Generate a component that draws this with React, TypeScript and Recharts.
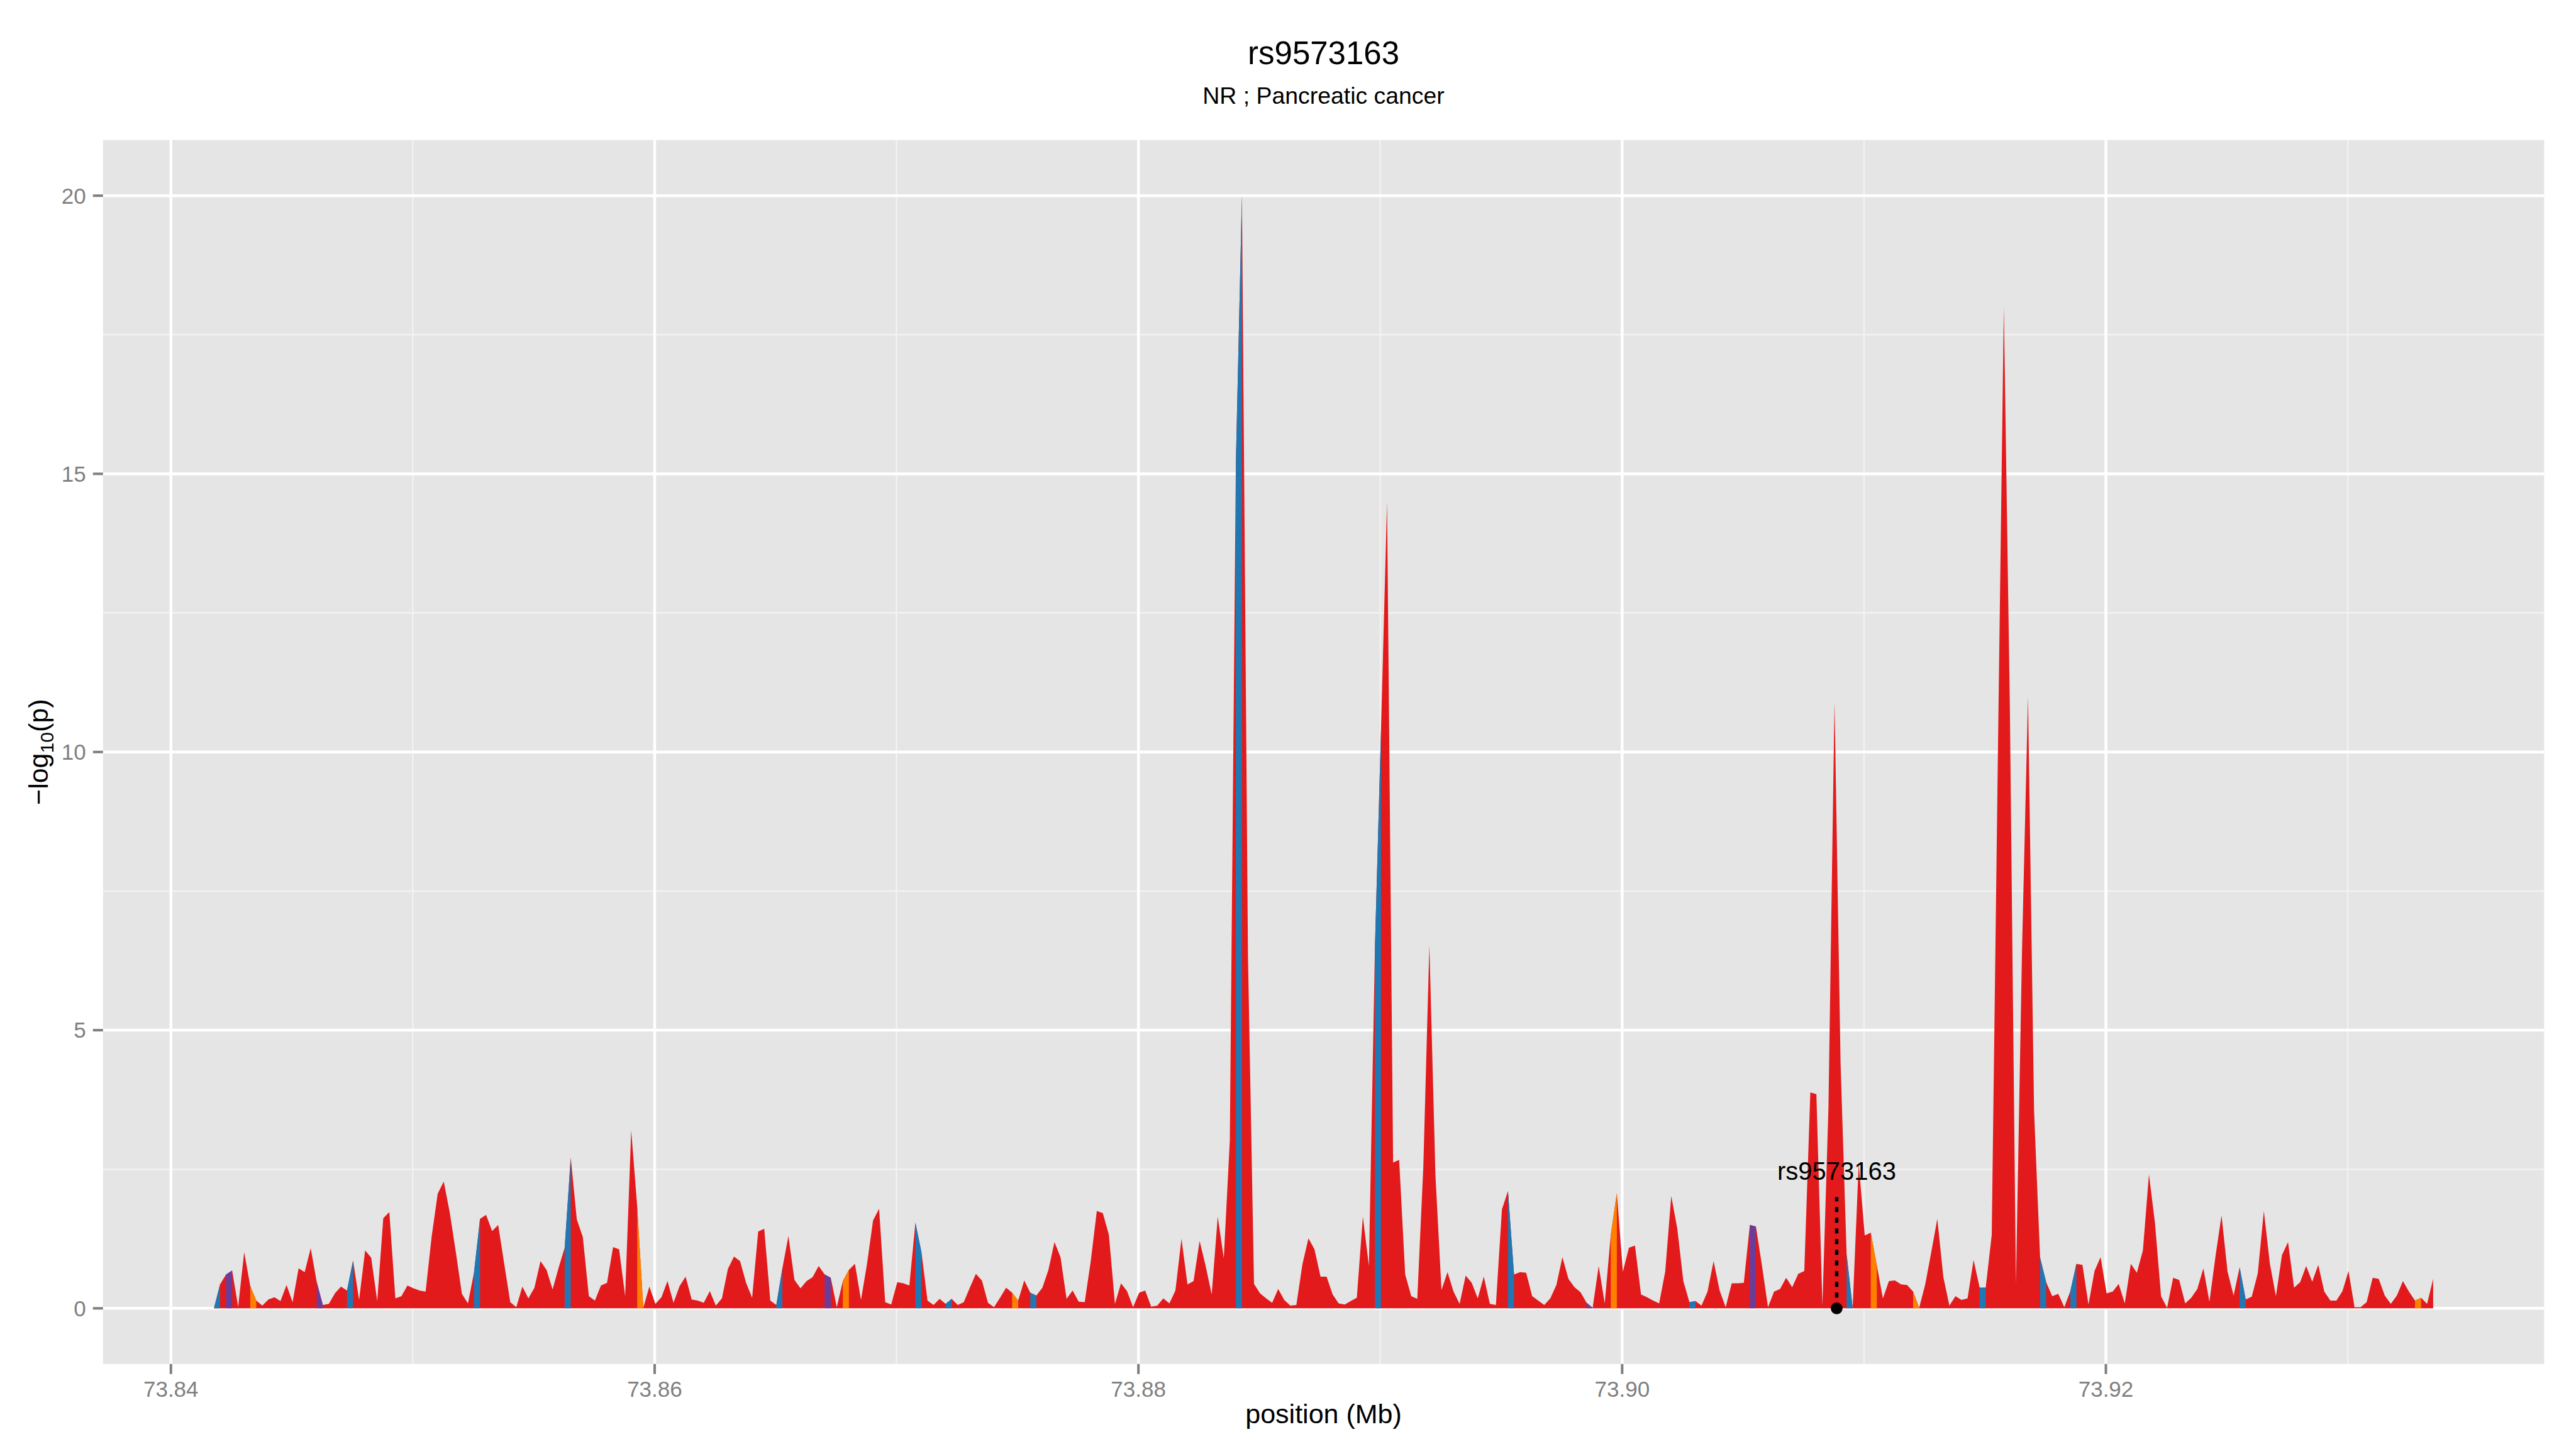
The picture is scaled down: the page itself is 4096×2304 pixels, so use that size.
import React from 'react'
import {
  Area,
  CartesianGrid,
  ComposedChart,
  ReferenceDot,
  ReferenceLine,
  XAxis,
  YAxis
} from 'recharts'

// SNP grid: 250 bp spacing starting at 73.84178 Mb
const START_MB = 73.84178
const STEP_MB = 0.00025

// -log10(p), one value per grid position
const logP = [
  0.00, 0.43, 0.61, 0.68, 0.03, 1.01, 0.40, 0.14, 0.05, 0.16,
  0.20, 0.13, 0.42, 0.11, 0.72, 0.65, 1.08, 0.47, 0.06, 0.08,
  0.27, 0.39, 0.32, 0.86, 0.15, 1.04, 0.91, 0.13, 1.62, 1.73,
  0.18, 0.22, 0.41, 0.36, 0.32, 0.30, 1.29, 2.06, 2.28, 1.72,
  1.01, 0.26, 0.09, 0.64, 1.61, 1.68, 1.39, 1.50, 0.80, 0.11,
  0.02, 0.39, 0.18, 0.37, 0.85, 0.69, 0.34, 0.73, 1.09, 2.71,
  1.60, 1.28, 0.22, 0.14, 0.41, 0.46, 1.10, 1.06, 0.22, 3.20,
  1.82, 0.01, 0.39, 0.08, 0.20, 0.49, 0.10, 0.40, 0.57, 0.16,
  0.14, 0.10, 0.31, 0.05, 0.18, 0.71, 0.93, 0.85, 0.46, 0.19,
  1.38, 1.43, 0.14, 0.06, 0.72, 1.30, 0.51, 0.36, 0.49, 0.56,
  0.76, 0.61, 0.55, 0.02, 0.49, 0.69, 0.80, 0.15, 0.80, 1.58,
  1.79, 0.11, 0.07, 0.47, 0.45, 0.41, 1.54, 1.01, 0.14, 0.06,
  0.17, 0.08, 0.17, 0.06, 0.11, 0.37, 0.62, 0.50, 0.10, 0.02,
  0.19, 0.37, 0.28, 0.14, 0.50, 0.28, 0.23, 0.37, 0.69, 1.19,
  0.92, 0.17, 0.32, 0.12, 0.11, 0.85, 1.75, 1.71, 1.32, 0.08,
  0.45, 0.31, 0.02, 0.28, 0.32, 0.03, 0.05, 0.18, 0.09, 0.32,
  1.25, 0.43, 0.49, 1.21, 0.76, 0.25, 1.65, 0.90, 3.02, 15.2,
  20.0, 6.33, 0.44, 0.27, 0.18, 0.10, 0.35, 0.15, 0.05, 0.06,
  0.79, 1.26, 1.06, 0.57, 0.57, 0.25, 0.09, 0.07, 0.13, 0.19,
  1.65, 0.76, 6.50, 10.4, 14.5, 2.62, 2.67, 0.61, 0.22, 0.17,
  2.55, 6.53, 2.40, 0.33, 0.65, 0.30, 0.08, 0.59, 0.46, 0.18,
  0.57, 0.08, 0.06, 1.78, 2.11, 0.61, 0.65, 0.64, 0.22, 0.14,
  0.06, 0.18, 0.42, 0.92, 0.53, 0.38, 0.29, 0.10, 0.01, 0.76,
  0.09, 1.32, 2.07, 0.66, 1.09, 1.13, 0.25, 0.20, 0.14, 0.09,
  0.66, 2.02, 1.43, 0.49, 0.11, 0.13, 0.05, 0.30, 0.85, 0.32,
  0.02, 0.45, 0.45, 0.46, 1.50, 1.47, 0.77, 0.02, 0.30, 0.35,
  0.55, 0.38, 0.62, 0.67, 3.88, 3.85, 0.05, 3.62, 10.9, 4.41,
  0.97, 0.01, 2.60, 1.31, 1.36, 0.77, 0.18, 0.49, 0.50, 0.43,
  0.42, 0.30, 0.01, 0.43, 1.01, 1.61, 0.56, 0.05, 0.22, 0.15,
  0.18, 0.87, 0.37, 0.37, 1.32, 9.80, 18.0, 10.8, 0.44, 6.40,
  11.0, 3.55, 0.91, 0.47, 0.22, 0.26, 0.02, 0.31, 0.80, 0.78,
  0.07, 0.67, 0.92, 0.27, 0.30, 0.44, 0.09, 0.80, 0.64, 1.04,
  2.41, 1.53, 0.22, 0.01, 0.55, 0.51, 0.09, 0.19, 0.35, 0.72,
  0.12, 0.93, 1.67, 0.66, 0.23, 0.74, 0.16, 0.21, 0.63, 1.75,
  0.80, 0.22, 0.96, 1.19, 0.37, 0.47, 0.76, 0.48, 0.78, 0.30,
  0.14, 0.14, 0.31, 0.67, 0.02, 0.02, 0.11, 0.55, 0.53, 0.23,
  0.08, 0.23, 0.49, 0.30, 0.14, 0.19, 0.08, 0.53
]

// grid indices of SNPs drawn in another colour (segment ending at that SNP)
const blueSnps = [1, 23, 44, 59, 94, 117, 122, 136, 170, 193, 215, 245, 271, 293, 303, 308, 336]
const orangeSnps = [7, 71, 105, 133, 232, 275, 282, 365]
const purpleSnps = [3, 18, 102, 228, 255]

const xTicks = [73.84, 73.86, 73.88, 73.9, 73.92]
const xMinor = [73.85, 73.87, 73.89, 73.91, 73.93]
const yTicks = [0, 5, 10, 15, 20]
const yMinor = [2.5, 7.5, 12.5, 17.5]

const leadSnp = { name: 'rs9573163', pos: 73.90887, labelY: 2.47, lineTop: 2 }

const RED = '#E31A1C'
const BLUE = '#1F78B4'
const ORANGE = '#FF7F00'
const PURPLE = '#6A3D9A'
const FONT = '"Liberation Sans", Arial, Helvetica, sans-serif'

const onSegment = (list: number[], i: number) =>
  list.includes(i) || list.includes(i + 1) ? logP[i] : null

const rows = logP.map((p, i) => ({
  pos: START_MB + i * STEP_MB,
  p,
  blue: onSegment(blueSnps, i),
  orange: onSegment(orangeSnps, i),
  purple: onSegment(purpleSnps, i)
}))

const xMin = rows[0].pos
const xMax = rows[rows.length - 1].pos
const xPad = (xMax - xMin) * 0.05

const W = 4096
const H = 2304
const PLOT = { left: 163.8, right: 4045.3, top: 222.7, bottom: 2168.8 }

export default function App () {
  const areaProps = {
    type: 'linear' as const,
    stroke: 'none',
    fillOpacity: 1,
    isAnimationActive: false,
    dot: false,
    activeDot: false,
    baseValue: 0,
    connectNulls: false
  }
  const tickStyle = { fill: '#7F7F7F', fontSize: 35, fontFamily: FONT }
  const tickLine = { stroke: '#7F7F7F', strokeWidth: 4 }
  const midX = (PLOT.left + PLOT.right) / 2

  return (
    <div style={{ position: 'absolute', left: 0, top: 0, width: W, height: H, background: '#fff' }}>
      <ComposedChart
        width={W}
        height={H}
        data={rows}
        margin={{ top: PLOT.top, right: W - PLOT.right, bottom: 35, left: 0 }}
      >
        <CartesianGrid
          fill="#E5E5E5"
          fillOpacity={1}
          stroke="#F2F2F2"
          strokeWidth={2.5}
          horizontalValues={yMinor}
          verticalValues={xMinor}
        />
        <CartesianGrid
          stroke="#FFFFFF"
          strokeWidth={4.5}
          horizontalValues={yTicks}
          verticalValues={xTicks}
        />
        <XAxis
          dataKey="pos"
          type="number"
          scale="linear"
          domain={[xMin - xPad, xMax + xPad]}
          allowDataOverflow
          ticks={xTicks}
          interval={0}
          tickFormatter={(v: number) => v.toFixed(2)}
          height={H - PLOT.bottom - 35}
          axisLine={false}
          tickLine={tickLine}
          tickSize={16}
          tickMargin={11}
          tick={tickStyle}
        />
        <YAxis
          type="number"
          domain={[-1, 21]}
          allowDataOverflow
          ticks={yTicks}
          interval={0}
          width={PLOT.left}
          axisLine={false}
          tickLine={tickLine}
          tickSize={16}
          tickMargin={11}
          tick={tickStyle}
        />
        <Area {...areaProps} dataKey="p" fill={RED} />
        <Area {...areaProps} dataKey="blue" fill={BLUE} />
        <Area {...areaProps} dataKey="orange" fill={ORANGE} />
        <Area {...areaProps} dataKey="purple" fill={PURPLE} />
        <ReferenceLine
          segment={[{ x: leadSnp.pos, y: 0 }, { x: leadSnp.pos, y: leadSnp.lineTop }]}
          stroke="#000"
          strokeWidth={5.5}
          strokeDasharray="8 9"
        />
        <ReferenceDot x={leadSnp.pos} y={0} r={9.4} fill="#000" stroke="none" />
        <ReferenceDot
          x={leadSnp.pos}
          y={leadSnp.labelY}
          r={0}
          fill="none"
          stroke="none"
          label={{ value: leadSnp.name, position: 'center', fontSize: 40, fill: '#000', fontFamily: FONT }}
        />
      </ComposedChart>
      <svg
        width={W}
        height={H}
        style={{ position: 'absolute', left: 0, top: 0, pointerEvents: 'none' }}
        fontFamily={FONT}
      >
        <text x={midX} y={102.4} textAnchor="middle" fontSize={51} fill="#000">rs9573163</text>
        <text x={midX} y={164.7} textAnchor="middle" fontSize={37.4} fill="#000">NR ; Pancreatic cancer</text>
        <text x={midX} y={2263} textAnchor="middle" fontSize={43} fill="#000">position (Mb)</text>
        <text transform={`translate(76, ${(PLOT.top + PLOT.bottom) / 2}) rotate(-90)`} textAnchor="middle" fontSize={43} fill="#000">
          −log<tspan fontSize={30} dy={9}>10</tspan><tspan dy={-9}>(p)</tspan>
        </text>
      </svg>
    </div>
  )
}
